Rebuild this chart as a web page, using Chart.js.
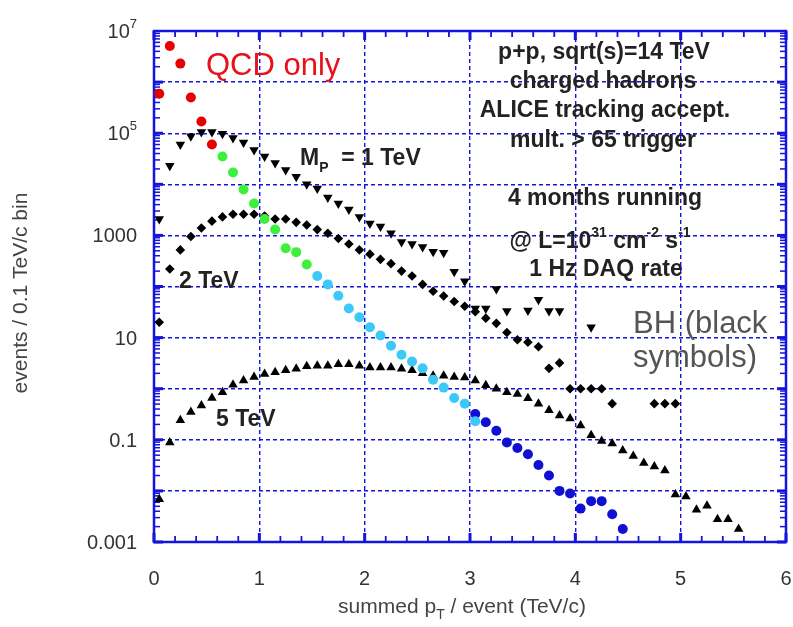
<!DOCTYPE html>
<html><head><meta charset="utf-8">
<script src="https://cdn.jsdelivr.net/npm/chart.js@4.4.1/dist/chart.umd.min.js"></script>
<style>html,body{margin:0;padding:0;background:#fff;}canvas{display:block;}</style>
</head><body>
<canvas id="c" width="793" height="627"></canvas>
<script>
// bin centres of the summed pT (TeV/c)
const bins = [0.05,0.15,0.25,0.35,0.45,0.55,0.65,0.75,0.85,0.95,1.05,1.15,1.25,1.35,1.45,1.55,1.65,1.75,1.85,1.95,
  2.05,2.15,2.25,2.35,2.45,2.55,2.65,2.75,2.85,2.95,3.05,3.15,3.25,3.35,3.45,3.55,3.65,3.75,3.85,3.95,
  4.05,4.15,4.25,4.35,4.45,4.55,4.65,4.75,4.85,4.95,5.05,5.15,5.25,5.35,5.45,5.55];

// QCD only, split into its four colour ranges
const qcdRed = [590000,5100000,2300000,500000,170000,60000];
const qcdGreen = [null,null,null,null,null,null,35000,17000,7900,4200,2100,1300,560,470,270];
const qcdCyan = [null,null,null,null,null,null,null,null,null,null,null,null,null,null,null,
  160,110,66,37,25,16,11,6.9,4.6,3.4,2.5,1.5,1.05,0.66,0.51,0.23];
const qcdBlue = [null,null,null,null,null,null,null,null,null,null,null,null,null,null,null,
  null,null,null,null,null,null,null,null,null,null,null,null,null,null,null,
  0.32,0.22,0.15,0.089,0.069,0.052,0.032,0.020,0.010,0.0089,0.0045,0.0063,0.0063,0.0035,0.0018];

// black holes, M_P = 1, 2, 5 TeV
const bh1TeV = [2100,23000,60000,87000,105000,105000,98000,81000,66000,47000,35000,26000,19000,14000,10000,
  8300,5500,4200,3200,2300,1700,1500,1100,740,680,590,480,460,195,126,37,37,89,33,null,34,55,33,33,null,null,16];
const bh2TeV = [20,220,520,950,1400,1900,2300,2600,2600,2600,2400,2100,2100,1800,1600,1300,1100,870,680,520,
  430,340,280,200,160,110,81,65,51,41,32,24,19,12.6,9.1,8.1,6.6,2.5,3.2,1,1,1,1,0.51,null,null,null,0.51,0.51,0.51];
const bh5TeV = [0.0069,0.089,0.24,0.35,0.47,0.66,0.85,1.2,1.45,1.7,1.95,2.1,2.3,2.45,2.75,2.8,2.8,3.0,3.0,2.8,
  2.6,2.6,2.6,2.45,2.3,2.0,1.8,1.8,1.7,1.66,1.45,1.17,1.0,0.85,0.79,0.65,0.51,0.38,0.30,0.26,
  0.19,0.123,0.095,0.085,0.062,0.048,0.035,0.030,0.025,0.0085,0.0078,0.0043,0.0051,0.0028,0.0028,0.0018];

// tick labels
const xTickValues = [0,1,2,3,4,5,6];
const xTickLabels = ['0','1','2','3','4','5','6'];
const yTickValues = [1e7,1e5,1000,10,0.1,0.001];
const yTickBase = ['10','10','1000','10','0.1','0.001'];
const yTickExp = ['7','5','','','',''];
const yGridValues = [0.001,0.01,0.1,1,10,100,1000,1e4,1e5,1e6,1e7];

const BLUE = '#1414dc';
const FONT = '"Liberation Sans", Arial, sans-serif';
const target = {left:154, top:31, right:786, bottom:542};

function pts(arr){ const out=[]; arr.forEach((v,i)=>{ if(v!=null) out.push({x:bins[i], y:v}); }); return out; }

function seg(ctx, segs, x, y, align){
  let w = 0;
  segs.forEach(s=>{ ctx.font = s.f; w += ctx.measureText(s.t).width; });
  let cx = align==='center' ? x - w/2 : (align==='right' ? x - w : x);
  segs.forEach(s=>{ ctx.font = s.f; ctx.fillText(s.t, cx, y + (s.dy||0)); cx += ctx.measureText(s.t).width; });
}

const decor = {
  id:'decor',
  beforeDatasetsDraw(chart){
    const {ctx, chartArea:a, scales:{x,y}} = chart;
    ctx.save();
    ctx.strokeStyle = BLUE;
    const line=(x1,y1,x2,y2,lw)=>{ctx.lineWidth=lw;ctx.beginPath();ctx.moveTo(x1,y1);ctx.lineTo(x2,y2);ctx.stroke();};
    for(let d=-3; d<7; d++){
      for(let m=1; m<10; m++){
        const py = y.getPixelForValue(m*Math.pow(10,d));
        const major = m===1;
        line(a.left, py, a.left+(major?9:6), py, major?3:1.5);
        line(a.right, py, a.right-(major?9:6), py, major?3:1.5);
      }
    }
    for(let k=0;k<=30;k++){
      const px = x.getPixelForValue(k*0.2);
      const major = k%5===0;
      line(px, a.bottom, px, a.bottom-(major?9:6), major?3:1.8);
      line(px, a.top, px, a.top+(major?9:6), major?3:1.8);
    }
    ctx.lineWidth = 2.5;
    ctx.strokeRect(a.left, a.top, a.right-a.left, a.bottom-a.top);
    ctx.restore();
  },
  afterDraw(chart){
    const {ctx, chartArea:a, scales:{x,y}} = chart;
    ctx.save();
    ctx.textBaseline = 'alphabetic';
    // x tick labels
    ctx.fillStyle = '#333';
    ctx.font = '20px '+FONT; ctx.textAlign='center';
    xTickValues.forEach((v,i)=>{ ctx.fillText(xTickLabels[i], x.getPixelForValue(v), 585); });
    // y tick labels
    ctx.textAlign='left';
    yTickValues.forEach((v,i)=>{
      const py = y.getPixelForValue(v) + 7;
      const s = [{t:yTickBase[i], f:'20px '+FONT}];
      if(yTickExp[i]) s.push({t:yTickExp[i], f:'13px '+FONT, dy:-10});
      seg(ctx, s, 137, py, 'right');
    });
    // axis titles
    ctx.fillStyle = '#444';
    seg(ctx, [{t:'summed p', f:'21px '+FONT},{t:'T', f:'14px '+FONT, dy:6},{t:' / event (TeV/c)', f:'21px '+FONT}], 462, 613, 'center');
    ctx.save(); ctx.translate(27, 293); ctx.rotate(-Math.PI/2);
    ctx.font='21px '+FONT; ctx.textAlign='center'; ctx.fillText('events / 0.1 TeV/c bin', 0, 0);
    ctx.restore();
    // QCD label
    ctx.fillStyle = '#e8101a'; ctx.font = '31px '+FONT; ctx.textAlign='left';
    ctx.fillText('QCD only', 206, 75);
    // BH label
    ctx.fillStyle = '#555'; ctx.font = '31px '+FONT;
    ctx.fillText('BH (black', 633, 333);
    ctx.fillText('symbols)', 633, 367);
    // annotation block
    ctx.fillStyle = '#222'; ctx.textAlign='left';
    const B = 'bold 23px '+FONT, Bs = 'bold 14px '+FONT;
    seg(ctx, [{t:'p+p, sqrt(s)=14 TeV', f:B}], 604, 59, 'center');
    seg(ctx, [{t:'charged hadrons', f:B}], 603, 88, 'center');
    seg(ctx, [{t:'ALICE tracking accept.', f:B}], 605, 117, 'center');
    seg(ctx, [{t:'mult. > 65 trigger', f:B}], 603, 147, 'center');
    seg(ctx, [{t:'4 months running', f:B}], 605, 205, 'center');
    seg(ctx, [{t:'@ L=10', f:B},{t:'31', f:Bs, dy:-11},{t:' cm', f:B},{t:'-2', f:Bs, dy:-11},{t:' s', f:B},{t:'-1', f:Bs, dy:-11}], 600, 248, 'center');
    seg(ctx, [{t:'1 Hz DAQ rate', f:B}], 606, 276, 'center');
    // mass labels
    seg(ctx, [{t:'M', f:'bold 23px '+FONT},{t:'P', f:'bold 14px '+FONT, dy:7},{t:'  = 1 TeV', f:'bold 23px '+FONT}], 300, 165, 'left');
    seg(ctx, [{t:'2 TeV', f:'bold 23px '+FONT}], 179, 288, 'left');
    seg(ctx, [{t:'5 TeV', f:'bold 23px '+FONT}], 216, 426, 'left');
    ctx.restore();
  }
};

const mk = (label, arr, style, color, radius, rot, order) => ({
  label, data: pts(arr), pointStyle: style, pointRadius: radius, pointRotation: rot||0,
  backgroundColor: color, borderColor: color, borderWidth: 0, showLine:false, order
});

const chart = new Chart(document.getElementById('c'), {
  type:'scatter',
  data:{ datasets:[
    mk('QCD', qcdRed, 'circle', '#e60000', 5, 0, 0),
    mk('QCD', qcdGreen, 'circle', '#3cf03c', 5, 0, 0),
    mk('QCD', qcdCyan, 'circle', '#3cc8f8', 5, 0, 0),
    mk('QCD', qcdBlue, 'circle', '#1010d2', 5, 0, 0),
    mk('M_P = 1 TeV', bh1TeV, 'triangle', '#000', 5.5, 180, 1),
    mk('2 TeV', bh2TeV, 'rectRot', '#000', 4.8, 0, 1),
    mk('5 TeV', bh5TeV, 'triangle', '#000', 5.5, 0, 1)
  ]},
  options:{
    responsive:false, animation:false, devicePixelRatio:1,
    layout:{padding:{left:target.left, top:target.top, right:793-target.right, bottom:627-target.bottom}},
    plugins:{legend:{display:false}, tooltip:{enabled:false}},
    scales:{
      x:{type:'linear', min:0, max:6,
        afterBuildTicks:s=>{ s.ticks = xTickValues.map(v=>({value:v})); },
        ticks:{display:false}, grid:{color:BLUE, lineWidth:1.4, drawTicks:false},
        border:{display:false, dash:[4,3]}},
      y:{type:'logarithmic', min:0.001, max:1e7,
        afterBuildTicks:s=>{ s.ticks = yGridValues.map(v=>({value:v})); },
        ticks:{display:false}, grid:{color:BLUE, lineWidth:1.4, drawTicks:false},
        border:{display:false, dash:[4,3]}}
    }
  },
  plugins:[decor]
});
// correct the plot area to the reference frame
const ca = chart.chartArea;
const p = chart.options.layout.padding;
p.left += target.left - ca.left; p.top += target.top - ca.top;
p.right += ca.right - target.right; p.bottom += ca.bottom - target.bottom;
chart.update();
</script>
</body></html>
